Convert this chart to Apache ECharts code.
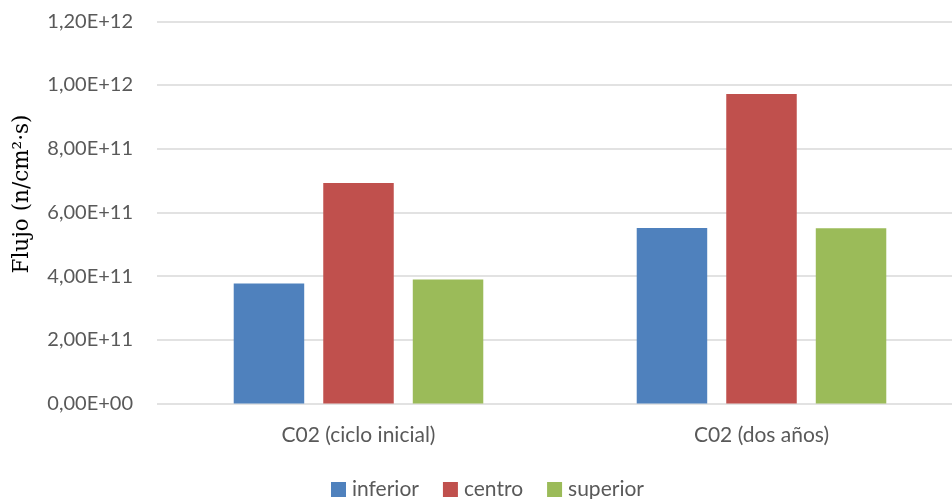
<!DOCTYPE html>
<html>
<head>
<meta charset="utf-8">
<script src="https://cdn.jsdelivr.net/npm/echarts@6/dist/echarts.min.js"></script>
<style>
  html, body { margin: 0; padding: 0; background: #fff; overflow: hidden; width: 952px; height: 499px; }
  /* the plot runs a little past the right edge of the window */
  #chart { width: 963px; height: 499px; }
</style>
</head>
<body>
<div id="chart"></div>
<script>
// Neutron flux per position, for each core state
const categories = ['C02 (ciclo inicial)', 'C02 (dos años)'];
const inferior = [3.77e11, 5.51e11];
const centro   = [6.92e11, 9.72e11];
const superior = [3.89e11, 5.50e11];

const yMin = 0;
const yMax = 1.2e12;
const yStep = 2e11;

// Spreadsheet-style scientific notation with a comma decimal: 1,20E+12
function sci(v) {
  const s = Number(v).toExponential(2);
  const [mant, exp] = s.split('e');
  const sign = exp[0] === '-' ? '-' : '+';
  const digits = exp.replace(/[+-]/, '').padStart(2, '0');
  return mant.replace('.', ',') + 'E' + sign + digits;
}

const chart = echarts.init(document.getElementById('chart'), null, { renderer: 'canvas' });
const labelFont = 'Lato, "Open Sans", sans-serif';

chart.setOption({
  animation: false,
  backgroundColor: '#ffffff',
  color: ['#4F81BD', '#C0504D', '#9BBB59'],
  grid: { left: 157, top: 21.3, right: 0, bottom: 95.5, containLabel: false },
  legend: {
    top: 474,
    left: 326,
    itemWidth: 15,
    itemHeight: 15,
    itemGap: 24,
    icon: 'rect',
    textStyle: { color: '#595959', fontSize: 21, fontFamily: labelFont, padding: [0, 0, 0, 1] },
    data: ['inferior', 'centro', 'superior']
  },
  xAxis: {
    type: 'category',
    data: categories,
    axisLine: { show: false },
    axisTick: { show: false },
    axisLabel: { color: '#595959', fontSize: 21, fontFamily: labelFont, margin: 21 }
  },
  yAxis: {
    type: 'value',
    min: yMin,
    max: yMax,
    interval: yStep,
    axisLine: { show: false },
    axisTick: { show: false },
    splitLine: { lineStyle: { color: '#d9d9d9', width: 1.5 } },
    axisLabel: { color: '#595959', fontSize: 20, fontFamily: labelFont, margin: 24, formatter: sci }
  },
  graphic: [{
    type: 'text',
    x: 22,
    y: 194,
    rotation: Math.PI / 2,
    style: {
      text: 'Flujo (n/cm²·s)',
      fill: '#000000',
      font: '21.5px "DejaVu Serif", "Liberation Serif", serif',
      textAlign: 'center',
      textVerticalAlign: 'middle'
    }
  }],
  series: [
    { name: 'inferior', type: 'bar', data: inferior, barWidth: 70.5, barGap: '27%' },
    { name: 'centro',   type: 'bar', data: centro,   barWidth: 70.5, barGap: '27%' },
    { name: 'superior', type: 'bar', data: superior, barWidth: 70.5, barGap: '27%' }
  ]
});
</script>
</body>
</html>
